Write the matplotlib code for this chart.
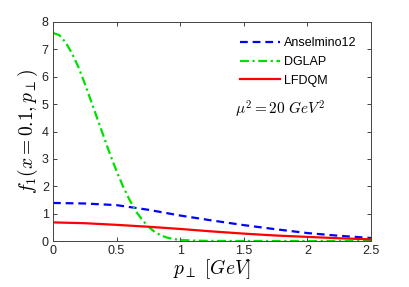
import matplotlib
matplotlib.use("Agg")
import matplotlib.pyplot as plt
import numpy as np

plt.rcParams['mathtext.fontset'] = 'cm'
plt.rcParams['font.family'] = ['Liberation Sans', 'DejaVu Sans']

# Anselmino12
p_ans = [0.0, 0.25, 0.5, 0.75, 1.0, 1.25, 1.5, 1.75, 2.0, 2.25, 2.5]
f_ans = [1.39, 1.37, 1.31, 1.14, 0.93, 0.75, 0.58, 0.43, 0.29, 0.19, 0.11]

# DGLAP
p_dg = [0.0, 0.05, 0.1, 0.15, 0.2, 0.25, 0.3, 0.35, 0.4, 0.45, 0.5, 0.55, 0.6, 0.65,
        0.7, 0.75, 0.8, 0.85, 0.9, 0.95, 1.0, 1.1, 1.2, 1.4, 1.7, 2.0, 2.5]
f_dg = [7.60, 7.52, 7.25, 6.85, 6.35, 5.75, 5.10, 4.45, 3.80, 3.15, 2.55, 2.00, 1.52,
        1.10, 0.78, 0.52, 0.33, 0.20, 0.12, 0.07, 0.04, 0.015, 0.005, 0.0, 0.0, 0.0, 0.0]

# LFDQM
p_lf = [0.0, 0.25, 0.5, 0.75, 1.0, 1.25, 1.5, 1.75, 2.0, 2.25, 2.5]
f_lf = [0.68, 0.65, 0.59, 0.52, 0.44, 0.35, 0.27, 0.20, 0.15, 0.10, 0.06]

fig = plt.figure(figsize=(4.09, 2.87), dpi=100)
ax = fig.add_axes([53/409, 1 - 241/287, 318/409, 219/287])

ax.plot(p_ans, f_ans, color='#0000ff', ls=(0, (3.5, 2.2)), lw=1.6, label='Anselmino12')
ax.plot(p_dg, f_dg, color='#00e000', ls=(0, (4, 1.6, 1, 1.6)), lw=1.6, label='DGLAP')
ax.plot(p_lf, f_lf, color='#ff0000', ls='-', lw=1.6, label='LFDQM')

ax.set_xlim(0, 2.5)
ax.set_ylim(0, 8)
ax.set_xticks([0, 0.5, 1, 1.5, 2, 2.5])
ax.set_xticklabels(['0', '0.5', '1', '1.5', '2', '2.5'])
ax.set_yticks(range(0, 9))
ax.tick_params(direction='in', length=3, width=0.6, top=True, right=True,
               labelsize=9, pad=3, colors='#222222')
for s in ax.spines.values():
    s.set_color('#444444')
    s.set_linewidth(0.7)

ax.set_xlabel(r'$p_\perp\ [GeV]$', fontsize=14, labelpad=0)
ax.set_ylabel(r'$f_1(x=0.1,p_\perp)$', fontsize=14, labelpad=1)

ax.text(1.43, 4.8, r'$\mu^2 = 20\ GeV^2$', fontsize=11, va='center', ha='left')

ax.legend(loc='upper left', frameon=False, fontsize=9, handlelength=3.2,
          handletextpad=0.3, labelspacing=0.55, borderaxespad=0.0, borderpad=0.0,
          bbox_to_anchor=((240 - 53) / 318, (241 - 37) / 219))

fig.savefig('out.png', dpi=100)
